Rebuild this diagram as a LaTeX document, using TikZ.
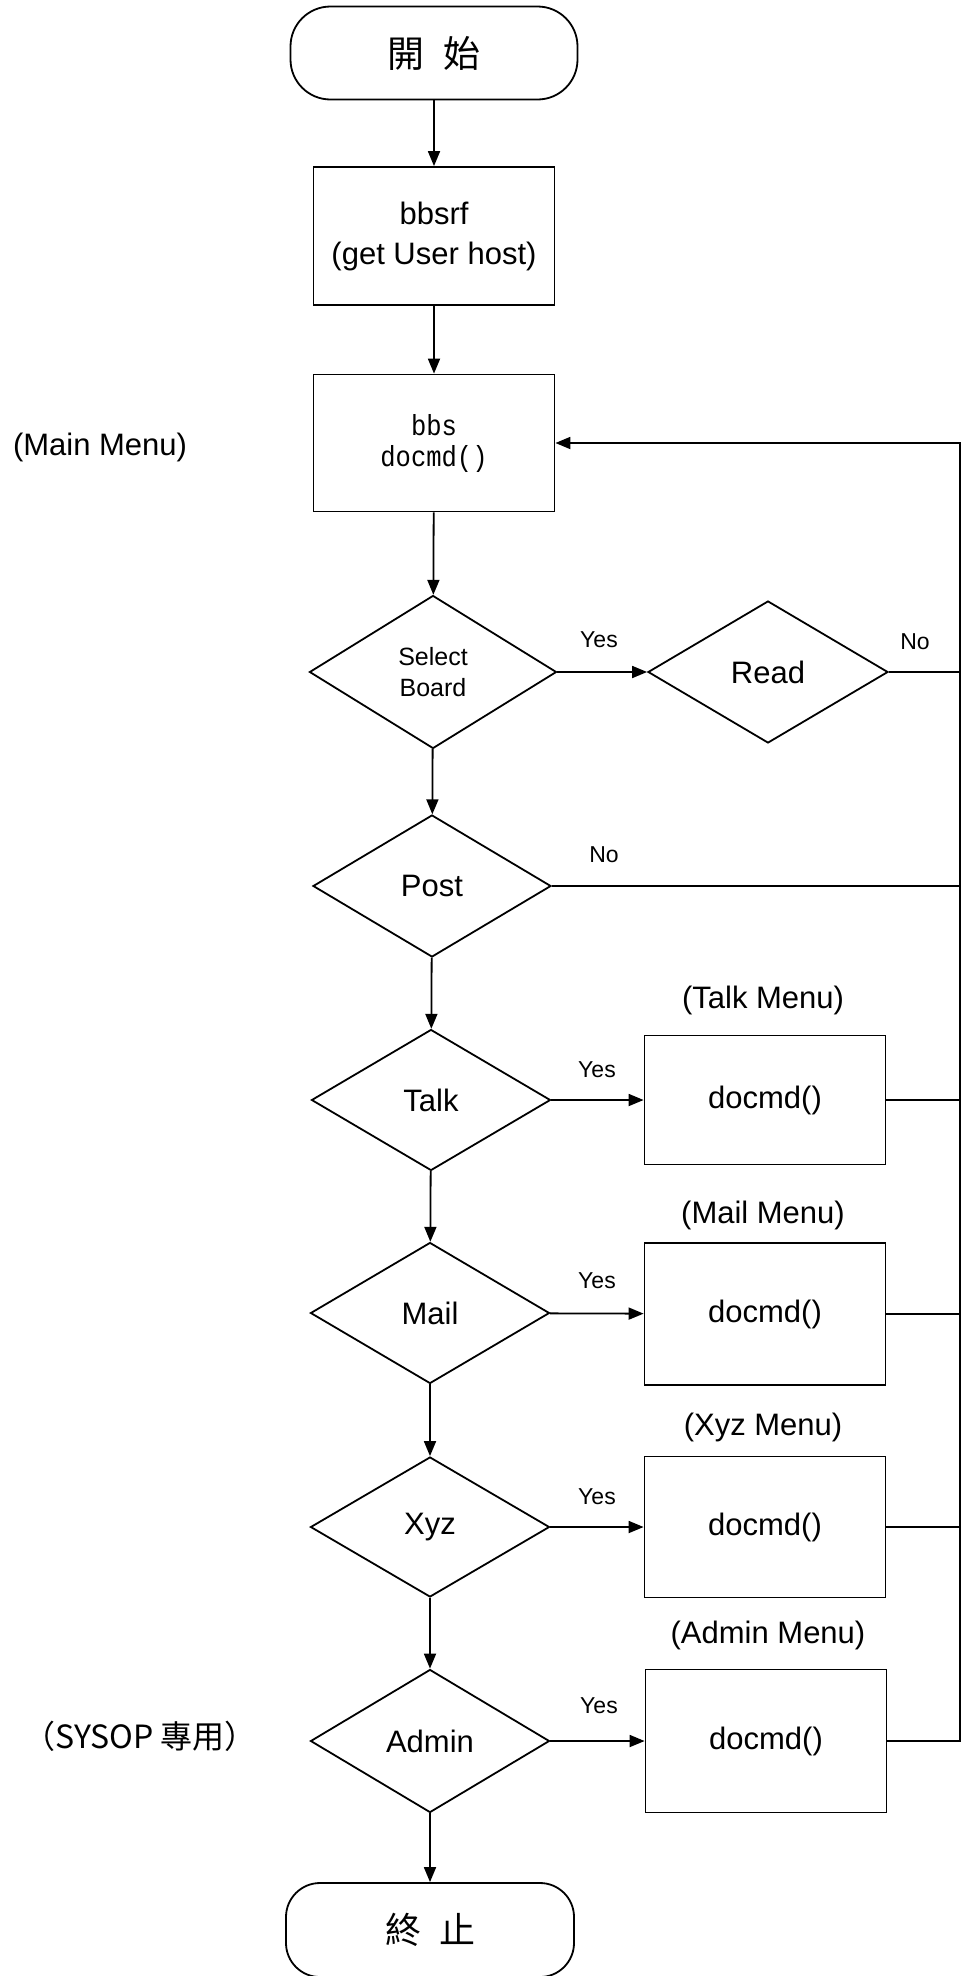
\documentclass[tikz,border=0pt]{standalone}
\usepackage{fontspec}
\setmainfont{Liberation Sans}
\newfontfamily\cjkfont{Noto Sans CJK TC}
\newfontfamily\monofont[FakeStretch=0.88]{Liberation Mono}
\usetikzlibrary{shapes.geometric,arrows.meta}
\begin{document}
\begin{tikzpicture}[x=1pt,y=-1pt,line width=1.8pt,
  box/.style={draw,rectangle,inner sep=0pt,minimum width=241pt,align=center,font=\fontsize{31}{40}\selectfont},
  dec/.style={draw,diamond,inner sep=0pt,align=center,font=\fontsize{31}{38}\selectfont},
  term/.style={draw,rectangle,rounded corners=40pt,minimum width=287pt,minimum height=93pt,inner sep=0pt,font=\cjkfont\fontsize{37}{42}\selectfont},
  lbl/.style={inner sep=0pt,font=\fontsize{31}{38}\selectfont},
  yn/.style={inner sep=0pt,font=\fontsize{23}{28}\selectfont},
  arr/.style={-{Triangle[length=15pt,width=12pt]}}]
\useasboundingbox (0,0) rectangle (963,1976);

% main column
\node[term] (start) at (434,53) {開\hspace{20pt}始};
\node[box,minimum height=138pt] (bbsrf) at (434,236) {bbsrf\\(get User host)};
\node[box,minimum height=137pt,font=\monofont\fontsize{29}{31}\selectfont] (bbs) at (434,443) {bbs\\docmd()};
\node[dec,minimum width=247pt,minimum height=153pt,font=\fontsize{25}{31}\selectfont] (sel) at (433,672) {Select\\Board};
\node[dec,minimum width=240pt,minimum height=142pt] (read) at (768,672) {Read};
\node[dec,minimum width=238pt,minimum height=142pt] (post) at (432,886) {Post};
\node[dec,minimum width=239pt,minimum height=141pt] (talk) at (431,1100) {Talk};
\node[dec,minimum width=239pt,minimum height=141pt] (mail) at (430,1313) {Mail};
\node[dec,minimum width=239pt,minimum height=140pt] (xyz) at (430,1527) {Xyz};
\node[dec,minimum width=239pt,minimum height=143pt] (admin) at (430,1741) {Admin};
\node[term,minimum width=288pt,minimum height=94pt,rounded corners=34pt,font=\cjkfont\fontsize{36}{42}\selectfont] (stopnode) at (430,1930) {終\hspace{18pt}止};

% right column boxes
\node[box,minimum height=129pt] (talkbox) at (765,1100) {docmd()};
\node[box,minimum height=142pt] (mailbox) at (765,1314) {docmd()};
\node[box,minimum height=141pt] (xyzbox) at (765,1527) {docmd()};
\node[box,minimum height=143pt] (adminbox) at (766,1741) {docmd()};

% labels
\node[lbl] (mainlbl) at (100,447) {(Main Menu)};
\node[lbl] (talklbl) at (763,1000) {(Talk Menu)};
\node[lbl] (maillbl) at (763,1215) {(Mail Menu)};
\node[lbl] (xyzlbl) at (763,1427) {(Xyz Menu)};
\node[lbl] (adminlbl) at (768,1635) {(Admin Menu)};
\node[inner sep=0pt,font=\cjkfont\fontsize{32}{38}\selectfont] (sysop) at (140,1736) {（SYSOP 專用）};

\node[yn] (yes1) at (599,640) {Yes};
\node[yn] (no1) at (915,642) {No};
\node[yn] (no2) at (604,855) {No};
\node[yn] (yes2) at (597,1070) {Yes};
\node[yn] (yes3) at (597,1281) {Yes};
\node[yn] (yes4) at (597,1497) {Yes};
\node[yn] (yes5) at (599,1706) {Yes};

\coordinate (rtop) at (960,443);

% connectors
\draw[arr] (start) -- (bbsrf);
\draw[arr] (bbsrf) -- (bbs);
\draw[arr] (bbs) -- (sel);
\draw[arr] (sel) -- (post);
\draw[arr] (post) -- (talk);
\draw[arr] (talk) -- (mail);
\draw[arr] (mail) -- (xyz);
\draw[arr] (xyz) -- (admin);
\draw[arr] (admin) -- (stopnode);

\draw[arr] (sel) -- (read);
\draw[arr] (talk) -- (talkbox);
\draw[arr] (mail) -- (mailbox);
\draw[arr] (xyz) -- (xyzbox);
\draw[arr] (admin) -- (adminbox);

\draw (read.east) -- (read.east -| rtop);
\draw (post.east) -- (post.east -| rtop);
\draw (talkbox.east) -- (talkbox.east -| rtop);
\draw (mailbox.east) -- (mailbox.east -| rtop);
\draw (xyzbox.east) -- (xyzbox.east -| rtop);
\draw[arr] (adminbox.east) -| (rtop) -- (bbs.east);
\end{tikzpicture}
\end{document}
